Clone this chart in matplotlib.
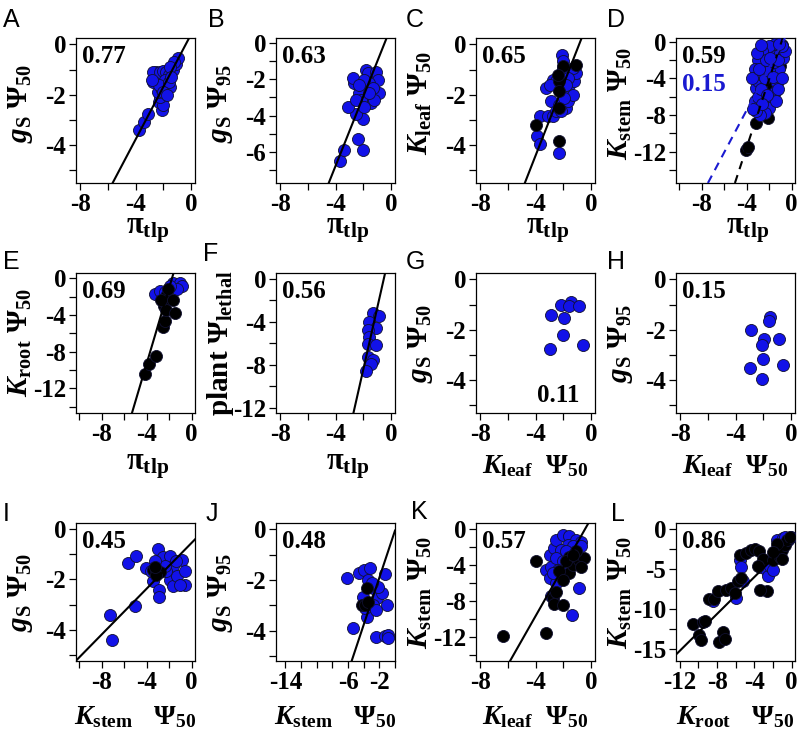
import matplotlib
matplotlib.use('Agg')
import matplotlib.pyplot as plt
import numpy as np

plt.rcParams['font.family'] = 'Liberation Serif'
plt.rcParams['font.weight'] = 'bold'
plt.rcParams['mathtext.fontset'] = 'custom'
plt.rcParams['mathtext.rm'] = 'Liberation Serif:bold'
plt.rcParams['mathtext.it'] = 'Liberation Serif:bold:italic'
plt.rcParams['mathtext.bf'] = 'Liberation Serif:bold'

BLUE = '#1212e8'
EDGE = '#101030'

# ---- data (x, y) ----
A_blue = [(-3.75, -3.4), (-3.4, -3.1), (-3.1, -2.75), (-2.1, -2.6), (-2.3, -2.3), (-2.0, -2.4),
          (-2.2, -2.1), (-2.4, -1.9), (-2.1, -1.8), (-1.8, -1.7), (-1.5, -1.7), (-2.7, -1.5),
          (-2.6, -1.3), (-2.5, -1.1), (-2.7, -1.1), (-2.2, -1.1), (-2.0, -1.05), (-1.8, -1.1),
          (-1.6, -1.2), (-1.3, -1.0), (-1.1, -0.8), (-0.9, -0.55), (-1.2, -0.7), (-1.5, -0.9),
          (-1.9, -1.4), (-2.3, -1.6), (-1.6, -1.5), (-1.4, -1.3), (-2.8, -1.4), (-2.0, -1.9),
          (-1.7, -2.0)]
B_blue = [(-3.7, -6.5), (-3.41, -5.87), (-2.03, -5.87), (-2.34, -5.27), (-2.03, -4.17),
          (-2.5, -3.89), (-3.1, -3.52), (-2.63, -2.24), (-2.74, -1.96), (-1.79, -1.5),
          (-1.67, -1.69), (-1.07, -1.6), (-0.95, -2.06), (-0.84, -2.79), (-2.03, -2.42),
          (-2.27, -2.79), (-1.79, -3.16), (-1.43, -3.34), (-1.19, -3.16), (-2.15, -3.16),
          (-2.5, -3.16), (-1.91, -3.52), (-1.55, -2.24), (-1.31, -2.51), (-1.91, -2.06),
          (-2.27, -2.33), (-1.55, -2.79)]
C_blue = [(-3.7, -2.86), (-3.87, -3.64), (-3.7, -3.97), (-3.22, -1.74), (-2.74, -1.41),
          (-2.86, -2.26), (-3.1, -2.86), (-2.74, -2.86), (-2.5, -2.66), (-2.27, -2.39),
          (-1.79, -2.53), (-1.67, -2.26), (-1.79, -1.87), (-1.55, -1.6), (-1.19, -1.47),
          (-1.07, -1.14), (-1.31, -0.95), (-2.03, -0.95), (-2.08, -0.42), (-2.27, -1.34),
          (-2.39, -1.74), (-2.03, -1.87), (-1.67, -1.34), (-2.27, -4.3), (-2.5, -1.47),
          (-2.98, -1.6), (-1.79, -1.6), (-1.31, -2.0), (-1.91, -2.13), (-2.15, -2.66),
          (-2.0, -0.65)]
C_black = [(-3.99, -3.21), (-2.32, -3.84), (-2.27, -2.53), (-2.32, -1.47), (-2.27, -1.87),
           (-2.03, -0.88), (-1.07, -0.82), (-2.39, -1.21)]
D_blue = [(-3.2, -5.0), (-3.0, -4.3), (-2.8, -3.5), (-2.5, -2.5), (-2.2, -1.5), (-1.8, -1.0),
          (-1.4, -0.8), (-1.0, -1.2), (-0.8, -1.8), (-1.1, -3.0), (-1.3, -4.5), (-1.5, -5.5),
          (-1.8, -6.5), (-2.0, -7.2), (-2.4, -7.8), (-2.8, -8.0), (-3.2, -7.5), (-3.3, -6.5),
          (-3.0, -6.0), (-2.7, -5.2), (-2.4, -4.0), (-2.0, -3.2), (-1.6, -2.2), (-1.2, -2.0),
          (-0.6, -1.0), (-0.9, -0.5), (-1.5, -0.3), (-2.0, -0.5), (-2.6, -1.0), (-3.0, -2.0),
          (-3.3, -3.0), (-3.5, -4.0), (-1.7, -3.8), (-1.4, -6.5), (-2.2, -5.8), (-2.6, -6.8),
          (-1.2, -5.2), (-0.9, -4.0), (-2.9, -3.0), (-2.3, -2.0), (-1.9, -1.8), (-3.1, -1.2),
          (-2.7, -0.4), (-1.1, -0.2), (-3.4, -7.3)]
D_black = [(-4.03, -11.8), (-3.88, -11.45), (-3.13, -8.9), (-2.09, -8.3), (-2.24, -7.4),
           (-2.39, -6.3), (-2.54, -4.5), (-1.94, -3.7), (-1.04, -2.6), (-2.69, -1.9),
           (-2.24, -5.5), (-2.84, -4.1), (-2.09, -2.8), (-2.39, -1.2), (-1.64, -4.8),
           (-2.69, -7.4), (-0.9, -0.4)]
E_blue = [(-3.28, -1.7), (-2.84, -1.4), (-1.64, -0.44), (-1.04, -0.44), (-0.9, -0.8),
          (-1.34, -1.2), (-1.94, -0.8), (-2.39, -1.5)]
E_black = [(-4.18, -10.4), (-3.79, -9.3), (-3.13, -8.5), (-2.54, -5.3), (-2.39, -4.7),
           (-2.48, -3.0), (-2.24, -3.4), (-1.49, -3.8), (-2.24, -1.9), (-2.09, -1.2),
           (-1.64, -2.3), (-2.69, -2.3)]
F_blue = [(-1.31, -3.2), (-0.84, -3.46), (-1.55, -4.0), (-1.07, -4.6), (-1.67, -4.8),
          (-1.55, -5.4), (-1.67, -6.04), (-1.07, -6.2), (-1.67, -7.3), (-1.31, -7.6),
          (-1.43, -7.9), (-1.79, -8.55)]
G_blue = [(-2.86, -1.41), (-2.15, -1.01), (-1.43, -0.88), (-1.55, -1.05), (-0.84, -1.05),
          (-1.91, -1.54), (-2.03, -2.22), (-2.94, -2.75), (-0.6, -2.62)]
H_blue = [(-2.86, -2.0), (-1.5, -1.48), (-1.55, -1.65), (-0.84, -2.36), (-1.91, -2.36),
          (-2.08, -2.6), (-2.03, -3.17), (-2.94, -3.5), (-0.6, -3.4), (-2.1, -3.95)]
I_blue = [(-7.31, -3.4), (-7.1, -4.4), (-5.67, -1.35), (-4.93, -1.06), (-5.07, -3.07),
          (-4.03, -1.55), (-3.43, -2.08), (-2.99, -0.79), (-2.9, -2.41), (-2.9, -2.7),
          (-2.84, -1.22), (-2.54, -1.09), (-1.94, -1.06), (-1.64, -1.48), (-1.94, -2.01),
          (-1.64, -2.28), (-1.34, -1.88), (-0.9, -1.22), (-0.6, -1.68), (-0.6, -2.21),
          (-1.04, -2.21), (-2.24, -1.68), (-2.39, -1.48), (-3.58, -1.68), (-3.28, -1.28),
          (-1.4, -1.28)]
I_black = [(-3.43, -1.62), (-3.13, -1.62), (-2.84, -1.72), (-3.13, -1.81), (-3.28, -1.51)]
J_blue = [(-6.17, -1.93), (-5.4, -3.9), (-4.55, -1.74), (-3.96, -1.6), (-3.19, -1.51),
          (-3.4, -2.0), (-2.77, -2.33), (-2.34, -2.72), (-1.7, -2.5), (-1.28, -1.76),
          (-1.06, -2.99), (-2.47, -4.24), (-1.28, -4.21), (-0.85, -4.17), (-0.85, -4.3),
          (-3.62, -3.45), (-3.4, -2.92), (-3.83, -3.12), (-2.77, -2.99), (-2.13, -2.26),
          (-2.98, -2.13), (-4.04, -2.66), (-2.43, -3.18)]
J_black = [(-3.62, -2.33), (-4.26, -2.99), (-3.83, -2.99), (-3.4, -2.86)]
K_blue = [(-0.84, -6.6), (-1.36, -9.6), (-3.22, -4.55), (-2.98, -5.5), (-2.86, -4.2),
          (-2.51, -6.0), (-2.98, -2.87), (-2.63, -2.1), (-2.51, -1.2), (-2.03, -0.63),
          (-1.55, -0.82), (-1.07, -1.2), (-0.72, -1.4), (-1.67, -1.75), (-2.15, -2.3),
          (-2.51, -3.25), (-2.03, -3.6), (-2.39, -4.55), (-1.91, -4.9), (-2.74, -4.9),
          (-1.31, -1.9), (-1.79, -2.5), (-0.72, -1.9), (-2.86, -7.5)]
K_black = [(-6.32, -11.9), (-3.22, -11.6), (-3.94, -3.6), (-2.74, -7.7), (-2.63, -8.3),
           (-2.03, -8.5), (-2.51, -7.0), (-1.55, -4.9), (-1.31, -4.0), (-0.84, -3.4),
           (-0.48, -3.2), (-1.55, -3.1), (-1.07, -2.5), (-1.79, -3.6), (-0.72, -4.2),
           (-2.27, -4.7), (-2.03, -5.7), (-1.31, -2.9)]
L_blue = [(-8.4, -9.0), (-5.59, -3.9), (-5.41, -4.77), (-5.23, -6.47), (-3.42, -4.68),
          (-2.88, -4.43), (-2.7, -5.19), (-2.52, -5.83), (-2.34, -4.55), (-1.98, -5.1),
          (-1.62, -1.36), (-0.9, -1.15), (-0.36, -1.36), (-0.05, -0.94), (-1.26, -2.0),
          (-0.72, -0.94), (-5.95, -8.6)]
L_black = [(-10.6, -11.9), (-9.55, -11.6), (-9.26, -11.5), (-9.9, -13.2), (-9.73, -13.9),
           (-7.82, -14.1), (-7.39, -12.9), (-7.2, -13.7), (-8.83, -8.8), (-8.29, -8.7),
           (-7.93, -7.7), (-7.03, -7.66), (-6.49, -7.4), (-6.13, -7.96), (-5.77, -6.55),
           (-5.41, -6.13), (-5.59, -3.28), (-4.86, -2.98), (-4.32, -2.55), (-3.96, -2.43),
           (-3.5, -2.72), (-3.06, -3.7), (-2.7, -7.74), (-3.42, -7.66), (-3.6, -4.55),
           (-1.98, -3.9), (-1.26, -3.49), (-1.08, -2.64), (-0.72, -2.0), (-0.54, -1.36),
           (-1.08, -3.7), (-1.62, -1.8), (-1.98, -2.85), (-0.18, -0.94)]

# fitted lines: (slope, intercept)
fit_lines = {'A': (1.04, 0.38), 'B': (1.90, 0.83), 'C': (1.40, 1.18), 'E': (4.13, 7.25),
             'F': (5.70, 2.91), 'I': (0.456, -0.54), 'J': (0.93, -0.05), 'K': (2.71, 1.13),
             'L': (1.156, -1.36)}
D_fit_black = (3.71, 3.34)
D_fit_blue = (2.30, 1.75)

r_values = {'A': '0.77', 'B': '0.63', 'C': '0.65', 'D': '0.59', 'E': '0.69', 'F': '0.56',
            'G': '0.11', 'H': '0.15', 'I': '0.45', 'J': '0.48', 'K': '0.57', 'L': '0.86'}
D_r_blue = '0.15'

PI = r'$\mathrm{\pi}_{\mathrm{tlp}}$'
GS50 = r'$g_{\mathrm{S}}\ \mathrm{\Psi}_{\mathrm{50}}$'
GS95 = r'$g_{\mathrm{S}}\ \mathrm{\Psi}_{\mathrm{95}}$'
KLEAF = r'$K_{\mathrm{leaf}}\ \mathrm{\Psi}_{\mathrm{50}}$'
KSTEM = r'$K_{\mathrm{stem}}\ \mathrm{\Psi}_{\mathrm{50}}$'
KROOT = r'$K_{\mathrm{root}}\ \mathrm{\Psi}_{\mathrm{50}}$'
PLANT = r'$\mathrm{plant}\ \mathrm{\Psi}_{\mathrm{lethal}}$'
KLEAF_X = r'$K_{\mathrm{leaf}}\ \ \mathrm{\Psi}_{\mathrm{50}}$'
KSTEM_X = r'$K_{\mathrm{stem}}\quad\mathrm{\Psi}_{\mathrm{50}}$'
KROOT_X = r'$K_{\mathrm{root}}\quad\mathrm{\Psi}_{\mathrm{50}}$'

x8 = ([-8, -6, -4, -2, 0], ['-8', '', '-4', '', '0'])
x10 = ([-10, -8, -6, -4, -2, 0], ['', '-8', '', '-4', '', '0'])
x14 = ([-14, -12, -10, -8, -6, -4, -2, 0], ['-14', '', '', '', '-6', '', '-2', ''])
x12 = ([-12, -10, -8, -6, -4, -2, 0], ['-12', '', '-8', '', '-4', '', '0'])
y5 = ([0, -1, -2, -3, -4, -5], ['0', '', '-2', '', '-4', ''])
y7 = ([0, -1, -2, -3, -4, -5, -6, -7], ['0', '', '-2', '', '-4', '', '-6', ''])
y14 = ([0, -2, -4, -6, -8, -10, -12, -14], ['0', '', '-4', '', '-8', '', '-12', ''])
y12 = ([0, -2, -4, -6, -8, -10, -12], ['0', '', '-4', '', '-8', '', '-12'])
y15 = ([0, -2.5, -5, -7.5, -10, -12.5, -15], ['0', '', '-5', '', '-10', '', '-15'])

W, H = 800, 740
col_left = [76, 276, 476, 676]
row_top = [38, 273, 523]
row_h = [145, 140, 138]
xlab_y = [-0.33, -0.38, -0.41]

panels = [
    ('A', A_blue, None, (-8.3, 0.3), (-5.5, 0.25), x8, y5, PI, GS50),
    ('B', B_blue, None, (-8.3, 0.3), (-7.7, 0.25), x8, y7, PI, GS95),
    ('C', C_blue, C_black, (-8.3, 0.3), (-5.5, 0.25), x8, y5, PI, KLEAF),
    ('D', D_blue, D_black, (-10.3, 0.3), (-15.4, 0.4), x10, y14, PI, KSTEM),
    ('E', E_blue, E_black, (-10.3, 0.3), (-14.7, 0.6), x10, y14, PI, KROOT),
    ('F', F_blue, None, (-8.3, 0.3), (-12.5, 0.55), x8, y12, PI, PLANT),
    ('G', G_blue, None, (-8.3, 0.3), (-5.3, 0.25), x8, y5, KLEAF_X, GS50),
    ('H', H_blue, None, (-8.3, 0.3), (-5.3, 0.25), x8, y5, KLEAF_X, GS95),
    ('I', I_blue, I_black, (-10.3, 0.3), (-5.25, 0.25), x10, y5, KSTEM_X, GS50),
    ('J', J_blue, J_black, (-15.2, 0.0), (-5.2, 0.25), x14, y5, KSTEM_X, GS95),
    ('K', K_blue, K_black, (-8.3, 0.3), (-14.7, 0.67), x8, y14, KLEAF_X, KSTEM),
    ('L', L_blue, L_black, (-12.4, 0.35), (-16.5, 0.77), x12, y15, KROOT_X, KSTEM),
]

fig = plt.figure(figsize=(8, 7.4), dpi=100)

for i, (name, blue, black, xlim, ylim, xt, yt, xlab, ylab) in enumerate(panels):
    row, col = divmod(i, 4)
    l, t, h = col_left[col], row_top[row], row_h[row]
    ax = fig.add_axes([l / W, 1 - (t + h) / H, 119 / W, h / H])

    layers = [(blue, BLUE), (black, 'black')]
    if name == 'D':
        layers = layers[::-1]
    for pts, c in layers:
        if pts is None:
            continue
        x, y = np.array(pts).T
        ax.scatter(x, y, s=75, c=c, edgecolors=EDGE, linewidths=0.6, zorder=3)

    if name in fit_lines:
        m, b = fit_lines[name]
        ax.axline((0, b), slope=m, color='black', lw=1.5, zorder=4)
    if name == 'D':
        ax.axline((0, D_fit_black[1]), slope=D_fit_black[0], color='black', lw=1.5,
                  ls=(0, (4, 3)), zorder=4)
        ax.axline((0, D_fit_blue[1]), slope=D_fit_blue[0], color='#1a1ad0', lw=1.5,
                  ls=(0, (4, 3)), zorder=4)

    ax.set_xlim(xlim)
    ax.set_ylim(ylim)
    ax.set_xticks(xt[0])
    ax.set_xticklabels(xt[1])
    ax.set_yticks(yt[0])
    ax.set_yticklabels(yt[1])
    ax.tick_params(direction='out', length=5, width=0.9, labelsize=18, pad=2)
    for s in ax.spines.values():
        s.set_linewidth(0.9)

    if name == 'G':
        ax.text(0.87, 0.04, r_values[name], transform=ax.transAxes, fontsize=18,
                ha='right', va='bottom')
    else:
        ax.text(0.05, 0.95, r_values[name], transform=ax.transAxes, fontsize=18,
                ha='left', va='top')
    if name == 'D':
        ax.text(0.05, 0.76, D_r_blue, transform=ax.transAxes, fontsize=18,
                ha='left', va='top', color='#1a1ad0')

    if xlab == PI:
        ax.text(0.6, xlab_y[row], xlab, transform=ax.transAxes, fontsize=22,
                ha='center', va='center')
    else:
        ax.text(0.5, xlab_y[row], xlab, transform=ax.transAxes, fontsize=20,
                ha='center', va='center')
    ax.text(-0.47, 0.55 if row == 0 else 0.5, ylab, transform=ax.transAxes, fontsize=21,
            rotation=90, ha='center', va='center')

letter_pos = {'A': (3, 8), 'B': (208, 8), 'C': (406, 8), 'D': (607, 8),
              'E': (3, 250), 'F': (203, 242), 'G': (406, 250), 'H': (607, 250),
              'I': (3, 502), 'J': (206, 502), 'K': (411, 500), 'L': (611, 502)}
for name, (px, py) in letter_pos.items():
    fig.text(px / W, 1 - py / H, name, fontsize=18, family='Liberation Sans',
             fontweight='normal', ha='left', va='top')

fig.savefig('out.png', dpi=100)
